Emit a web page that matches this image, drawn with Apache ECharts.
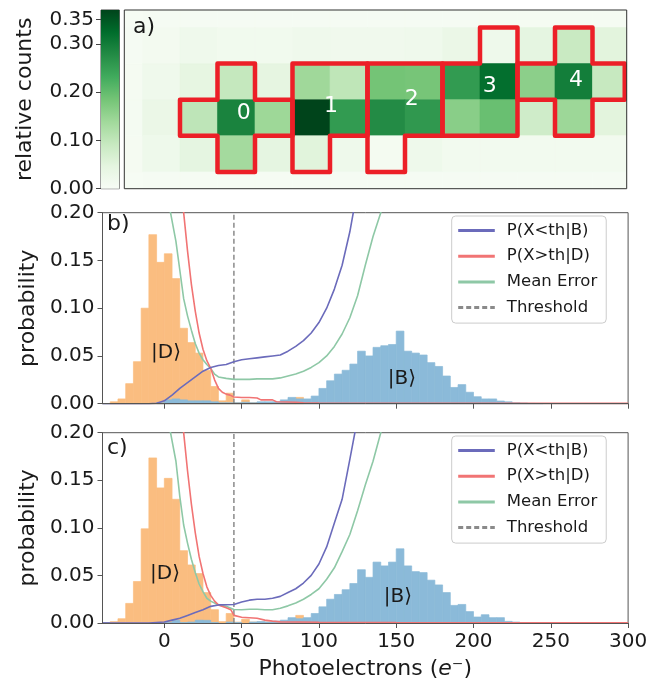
<!DOCTYPE html>
<html>
<head>
<meta charset="utf-8">
<script src="https://cdn.jsdelivr.net/npm/echarts@6/dist/echarts.min.js"></script>
<style>
  html, body { margin: 0; padding: 0; background: #ffffff; }
  #chart { width: 663px; height: 681px; }
</style>
</head>
<body>
<div id="chart"></div>
<script>
// ---------- panel a: camera region, relative counts per pixel (rows top→bottom, 14 columns) ----------
const HEAT_ROW_0 = [0.003, 0.005, 0.005, 0.005, 0.005, 0.005, 0.005, 0.005, 0.005, 0.005, 0.006, 0.006, 0.006, 0.006];
const HEAT_ROW_1 = [0.004, 0.010, 0.020, 0.015, 0.015, 0.020, 0.018, 0.018, 0.020, 0.030, 0.022, 0.045, 0.090, 0.050];
const HEAT_ROW_2 = [0.006, 0.020, 0.042, 0.095, 0.043, 0.140, 0.102, 0.185, 0.182, 0.255, 0.320, 0.160, 0.298, 0.092];
const HEAT_ROW_3 = [0.007, 0.030, 0.103, 0.290, 0.142, 0.370, 0.255, 0.278, 0.258, 0.163, 0.195, 0.080, 0.143, 0.050];
const HEAT_ROW_4 = [0.006, 0.022, 0.045, 0.135, 0.045, 0.052, 0.022, 0.008, 0.022, 0.013, 0.013, 0.013, 0.014, 0.014];
const HEAT_ROW_5 = [0.003, 0.005, 0.005, 0.005, 0.005, 0.005, 0.005, 0.005, 0.005, 0.005, 0.005, 0.005, 0.005, 0.005];
const HEAT_ROWS = [HEAT_ROW_0, HEAT_ROW_1, HEAT_ROW_2, HEAT_ROW_3, HEAT_ROW_4, HEAT_ROW_5];
const HEAT_MAX = 0.37;
const COLORBAR_TICKS = [0.0, 0.10, 0.20, 0.30, 0.35];

// Region of interest for each ion: outline corners in pixel-grid units, and label anchor
const ION_NAMES = ['0', '1', '2', '3', '4'];
const ION_LABEL_POS = [[3.70, 3.38], [6.03, 3.19], [8.18, 2.99], [10.26, 2.64], [12.56, 2.47]];
const ION_OUTLINES = [
  [[3, 2], [4, 2], [4, 3], [5, 3], [5, 4], [4, 4], [4, 5], [3, 5], [3, 4], [2, 4], [2, 3], [3, 3]],
  [[5, 2], [7, 2], [7, 4], [6, 4], [6, 5], [5, 5]],
  [[7, 2], [9, 2], [9, 4], [8, 4], [8, 5], [7, 5]],
  [[10, 1], [11, 1], [11, 4], [9, 4], [9, 2], [10, 2]],
  [[12, 1], [13, 1], [13, 2], [13.86, 2], [13.86, 3], [13, 3], [13, 4], [12, 4], [12, 3], [11, 3], [11, 2], [12, 2]]
];

// ---------- panels b and c: photoelectron histograms (5 e- bins starting at -40) ----------
const HIST_START = -40;
const BIN_WIDTH = 5;
const X_TICKS = [0, 50, 100, 150, 200, 250, 300];
const THRESHOLD = 45;

const B_DARK = [0, 0.002, 0.005, 0.021, 0.044, 0.100, 0.177, 0.148, 0.157, 0.131, 0.079, 0.064, 0.053, 0.035,
  0.018, 0.003, 0.011, 0.001, 0.004, 0.001, 0.001, 0.001, 0, 0.001, 0.002, 0.0066];
const B_BRIGHT = [0, 0, 0, 0, 0, 0, 0, 0.001, 0.004, 0.005, 0.004, 0.003, 0.003, 0.003, 0.002, 0.001, 0.001,
  0.001, 0.0015, 0.001, 0.002, 0.002, 0.002, 0.004, 0.0066, 0.005, 0.005, 0.008, 0.016, 0.024, 0.031, 0.035,
  0.0415, 0.055, 0.050, 0.059, 0.0607, 0.062, 0.076, 0.055, 0.053, 0.051, 0.043, 0.039, 0.029, 0.017, 0.020,
  0.012, 0.0073, 0.005, 0.005, 0.0028, 0.002, 0.001, 0.0007, 0.0003, 0.0002];

const C_DARK = [0, 0.0014, 0.0045, 0.0206, 0.0436, 0.099, 0.1735, 0.142, 0.152, 0.130, 0.076, 0.061, 0.052, 0.032,
  0.014, 0.0014, 0.010, 0.001, 0.004, 0.001, 0.001, 0.001, 0, 0.001, 0.002, 0.008];
const C_BRIGHT = [0, 0, 0, 0, 0, 0, 0, 0, 0.0007, 0.003, 0.0005, 0.001, 0.003, 0.0028, 0.0005, 0, 0.001, 0.0005,
  0, 0.001, 0.0015, 0.001, 0.002, 0.003, 0.0056, 0.0045, 0.0056, 0.010, 0.017, 0.025, 0.030, 0.035, 0.0415,
  0.056, 0.048, 0.064, 0.060, 0.064, 0.078, 0.060, 0.054, 0.053, 0.045, 0.040, 0.032, 0.0185, 0.0195, 0.012,
  0.0063, 0.0087, 0.0056, 0.0056, 0.0017, 0.001, 0.0005, 0.0003];

// error curves versus threshold: [threshold, probability]
const B_MISS_BRIGHT = [[-40, 0], [-10, 0], [-5, 0.0005], [0, 0.003], [5, 0.009], [10, 0.016], [15, 0.022],
  [20, 0.028], [25, 0.034], [30, 0.038], [35, 0.040], [40, 0.041], [45, 0.044], [50, 0.046], [55, 0.047],
  [60, 0.048], [65, 0.049], [70, 0.050], [75, 0.051], [80, 0.055], [85, 0.060], [90, 0.066], [95, 0.074],
  [100, 0.085], [105, 0.100], [110, 0.120], [115, 0.145], [120, 0.180], [125, 0.225], [130, 0.290]];
const B_MISS_DARK = [[0, 0.45], [5, 0.36], [10, 0.26], [12.5, 0.20], [15, 0.16], [17.5, 0.125], [20, 0.097],
  [22.5, 0.074], [25, 0.057], [27.5, 0.045], [30, 0.037], [32.5, 0.025], [35, 0.016], [37.5, 0.012],
  [40, 0.010], [42.5, 0.009], [45, 0.007], [50, 0.0065], [55, 0.0065], [60, 0.006], [62.5, 0.004], [70, 0.004],
  [72.5, 0.002], [85, 0.0015], [90, 0.001], [100, 0.0008], [150, 0.0005], [300, 0.0003]];
const B_MEAN_ERR = [[0, 0.25], [2.5, 0.22], [4, 0.20], [7.5, 0.17], [10, 0.14], [12.5, 0.11], [15, 0.092],
  [17.5, 0.077], [20, 0.063], [22.5, 0.053], [25, 0.046], [27.5, 0.041], [30, 0.037], [32.5, 0.031],
  [35, 0.028], [40, 0.0265], [45, 0.0255], [50, 0.0255], [55, 0.0255], [60, 0.026], [65, 0.026], [70, 0.026],
  [75, 0.027], [80, 0.029], [85, 0.031], [90, 0.034], [95, 0.038], [100, 0.043], [105, 0.050], [110, 0.060],
  [115, 0.073], [120, 0.090], [125, 0.113], [130, 0.145], [135, 0.175], [140, 0.20], [145, 0.24]];

const C_MISS_BRIGHT = [[-40, 0], [-10, 0], [-5, 0.0005], [0, 0.001], [5, 0.003], [10, 0.005], [15, 0.008],
  [20, 0.011], [25, 0.014], [30, 0.0175], [35, 0.019], [40, 0.0192], [45, 0.0195], [50, 0.022], [55, 0.024],
  [60, 0.025], [65, 0.025], [70, 0.026], [75, 0.028], [80, 0.032], [85, 0.036], [90, 0.042], [95, 0.050],
  [100, 0.062], [105, 0.080], [110, 0.105], [115, 0.130], [120, 0.172], [125, 0.215], [130, 0.270]];
const C_MISS_DARK = [[0, 0.45], [5, 0.36], [10, 0.26], [12.5, 0.20], [15, 0.16], [17.5, 0.125], [20, 0.095],
  [22.5, 0.070], [25, 0.052], [27.5, 0.038], [30, 0.029], [32.5, 0.023], [35, 0.019], [40, 0.016], [43, 0.014],
  [45, 0.008], [50, 0.006], [55, 0.0055], [60, 0.005], [65, 0.003], [70, 0.002], [75, 0.0012], [100, 0.0008],
  [150, 0.0005], [300, 0.0003]];
const C_MEAN_ERR = [[0, 0.24], [2.5, 0.215], [4, 0.20], [7.5, 0.17], [10, 0.133], [12.5, 0.103], [15, 0.084],
  [17.5, 0.067], [20, 0.053], [22.5, 0.041], [25, 0.033], [27.5, 0.026], [30, 0.023], [35, 0.019], [40, 0.0175],
  [45, 0.0142], [50, 0.014], [55, 0.0145], [60, 0.0145], [65, 0.014], [70, 0.014], [75, 0.0155], [80, 0.018],
  [85, 0.021], [90, 0.025], [95, 0.030], [100, 0.036], [105, 0.046], [110, 0.058], [115, 0.075], [120, 0.093],
  [125, 0.118], [130, 0.145], [135, 0.170], [140, 0.20], [145, 0.24]];

const LEGEND_NAMES = ['P(X<th|B)', 'P(X>th|D)', 'Mean Error', 'Threshold'];

// ---------- styling ----------
const FONT = 'DejaVu Sans';
const TEXT = '#1a1a1a';
const AXIS = '#555555';
const TICK_SIZE = 20;
const NAME_SIZE = 22;
const GREENS = ['#f7fcf5', '#e5f5e0', '#c7e9c0', '#a1d99b', '#74c476', '#41ab5d', '#238b45', '#006d2c', '#00441b'];
const COL_DARK = '#fabd80';
const COL_BRIGHT = '#8bbad9';
const COL_MISS_B = '#6b6bbb';
const COL_MISS_D = '#f17474';
const COL_MEAN = '#8ec8a6';
const COL_THR = '#8a8a8a';
const COL_ROI = '#ec1f27';

const HEAT_BOX = { left: 124.3, top: 10, width: 502.4, height: 178.7 };
const PANEL_LEFT = 102.5, PANEL_WIDTH = 525.6, PANEL_HEIGHT = 191;
const PANEL_B_TOP = 212.7, PANEL_C_TOP = 432.7;

const heatData = [];
HEAT_ROWS.forEach((row, r) => row.forEach((v, c) => heatData.push([c, r, v])));

function clipToGrid(rect, params) {
  const cs = params.coordSys;
  return echarts.graphic.clipRectByRect(rect, { x: cs.x, y: cs.y, width: cs.width, height: cs.height });
}

function renderCell(params, api) {
  const c = api.value(0), r = api.value(1);
  const p0 = api.coord([c, r]);
  const p1 = api.coord([c + 1, r + 1]);
  const rect = clipToGrid({
    x: Math.min(p0[0], p1[0]), y: Math.min(p0[1], p1[1]),
    width: Math.abs(p1[0] - p0[0]), height: Math.abs(p1[1] - p0[1])
  }, params);
  if (!rect) return null;
  const col = api.visual('color');
  return { type: 'rect', shape: rect, style: { fill: col, stroke: col, lineWidth: 0.6 } };
}

function renderIon(params, api) {
  const i = params.dataIndex;
  const pts = ION_OUTLINES[i].map(p => api.coord(p));
  const lp = api.coord([api.value(0), api.value(1)]);
  return {
    type: 'group',
    children: [
      { type: 'polygon', z2: 10, shape: { points: pts },
        style: { fill: 'none', stroke: COL_ROI, lineWidth: 4.5, lineJoin: 'round' } },
      { type: 'text', z2: 11, x: lp[0], y: lp[1],
        style: { text: ION_NAMES[i], fill: '#ffffff', fontSize: 22, fontFamily: FONT,
                 align: 'center', verticalAlign: 'middle' } }
    ]
  };
}

function renderColorbar(params, api) {
  const a = api.coord([0, api.value(1)]);
  const b = api.coord([1, api.value(0)]);
  const stops = GREENS.map((c, k) => ({ offset: k / (GREENS.length - 1), color: c }));
  return {
    type: 'rect',
    shape: { x: a[0], y: a[1], width: b[0] - a[0], height: b[1] - a[1] },
    style: { fill: new echarts.graphic.LinearGradient(0, 1, 0, 0, stops) }
  };
}

function renderBin(params, api) {
  const x0 = api.value(0), v = api.value(1);
  if (!(v > 0)) return null;
  const a = api.coord([x0, v]);
  const b = api.coord([x0 + BIN_WIDTH, 0]);
  const col = api.visual('color');
  return { type: 'rect', shape: { x: a[0], y: a[1], width: b[0] - a[0], height: b[1] - a[1] },
           style: { fill: col, stroke: col, lineWidth: 0.7 } };
}

function binned(values) {
  return values.map((v, i) => [HIST_START + i * BIN_WIDTH, v]);
}

function histSeries(name, values, color, idx) {
  return { type: 'custom', name: name, xAxisIndex: idx, yAxisIndex: idx, renderItem: renderBin,
           itemStyle: { color: color }, data: binned(values), z: 2, silent: true };
}

function curveSeries(name, data, color, idx) {
  return { type: 'line', name: name, xAxisIndex: idx, yAxisIndex: idx, data: data, symbol: 'none',
           clip: true, lineStyle: { color: color, width: 1.6 }, itemStyle: { color: color }, z: 4 };
}

function thresholdSeries(idx) {
  return { type: 'line', name: 'Threshold', xAxisIndex: idx, yAxisIndex: idx,
           data: [[THRESHOLD, 0], [THRESHOLD, 0.2]], symbol: 'none',
           lineStyle: { color: COL_THR, width: 1.5, type: [5, 3] }, itemStyle: { color: COL_THR }, z: 3 };
}

function probYAxis(idx) {
  return {
    gridIndex: idx, type: 'value', min: 0, max: 0.2, interval: 0.05, z: 6,
    name: 'probability', nameLocation: 'middle', nameGap: 61,
    nameTextStyle: { fontSize: NAME_SIZE, color: TEXT, fontFamily: FONT },
    axisLine: { show: true, onZero: false, lineStyle: { color: AXIS, width: 1 } },
    axisTick: { show: true, inside: false, length: 5, lineStyle: { color: AXIS } },
    axisLabel: { fontSize: TICK_SIZE, color: TEXT, fontFamily: FONT, margin: 8, formatter: v => v.toFixed(2) },
    splitLine: { show: false }
  };
}

function photoXAxis(idx, withLabels) {
  const ax = {
    gridIndex: idx, type: 'value', min: -40, max: 300, z: 6,
    axisLine: { show: true, onZero: false, lineStyle: { color: AXIS, width: 1 } },
    axisTick: { show: true, inside: false, length: 5, customValues: X_TICKS, lineStyle: { color: AXIS } },
    axisLabel: { show: withLabels, customValues: X_TICKS, fontSize: TICK_SIZE, color: TEXT, fontFamily: FONT,
                 margin: 9 },
    splitLine: { show: false }
  };
  if (withLabels) {
    ax.name = 'Photoelectrons ({i|e}⁻)';
    ax.nameLocation = 'middle';
    ax.nameGap = 35;
    ax.nameTextStyle = { fontSize: NAME_SIZE, color: TEXT, fontFamily: FONT,
      rich: { i: { fontSize: NAME_SIZE, fontStyle: 'italic', color: TEXT, fontFamily: FONT } } };
  }
  return ax;
}

function legendAt(top) {
  return {
    data: LEGEND_NAMES, orient: 'vertical', left: 451.7, top: top,
    padding: [6, 9, 7, 5], itemGap: 8.7, itemWidth: 36.6, itemHeight: 16,
    backgroundColor: 'rgba(255,255,255,0.85)', borderColor: '#cccccc', borderWidth: 1, borderRadius: 4,
    lineStyle: { width: 3 },
    itemStyle: { opacity: 0 },
    textStyle: { fontSize: 16.5, color: TEXT, fontFamily: FONT, padding: [0, 0, 0, 7] },
    selectedMode: false
  };
}

const chart = echarts.init(document.getElementById('chart'), null, { renderer: 'canvas' });

const option = {
  animation: false,
  backgroundColor: '#ffffff',
  textStyle: { fontFamily: FONT },
  grid: [
    { left: HEAT_BOX.left, top: HEAT_BOX.top, width: HEAT_BOX.width, height: HEAT_BOX.height, show: false },
    { left: 101, top: 10, width: 18.3, height: 178.7, show: true, borderColor: '#444', borderWidth: 1 },
    { left: PANEL_LEFT, top: PANEL_B_TOP, width: PANEL_WIDTH, height: PANEL_HEIGHT,
      show: true, borderColor: AXIS, borderWidth: 1 },
    { left: PANEL_LEFT, top: PANEL_C_TOP, width: PANEL_WIDTH, height: PANEL_HEIGHT,
      show: true, borderColor: AXIS, borderWidth: 1 }
  ],
  xAxis: [
    { gridIndex: 0, type: 'value', min: 0.515, max: 13.912, show: false },
    { gridIndex: 1, type: 'value', min: 0, max: 1, show: false },
    photoXAxis(2, false),
    photoXAxis(3, true)
  ],
  yAxis: [
    { gridIndex: 0, type: 'value', min: 0.515, max: 5.465, inverse: true, show: false },
    {
      gridIndex: 1, type: 'value', min: 0, max: HEAT_MAX, position: 'left',
      name: 'relative counts', nameLocation: 'middle', nameGap: 65,
      nameTextStyle: { fontSize: NAME_SIZE, color: TEXT, fontFamily: FONT },
      axisLine: { show: false },
      axisTick: { show: true, length: 5, customValues: COLORBAR_TICKS, lineStyle: { color: '#444' } },
      axisLabel: { customValues: COLORBAR_TICKS, fontSize: TICK_SIZE, color: TEXT, fontFamily: FONT, margin: 7,
                   formatter: v => v.toFixed(2) },
      splitLine: { show: false }
    },
    probYAxis(2),
    probYAxis(3)
  ],
  visualMap: {
    type: 'continuous', show: false, seriesIndex: 0, dimension: 2, min: 0, max: HEAT_MAX,
    inRange: { color: GREENS }
  },
  legend: [legendAt(216), legendAt(436)],
  series: [
    { type: 'custom', name: 'counts', xAxisIndex: 0, yAxisIndex: 0, renderItem: renderCell,
      data: heatData, silent: true, z: 1 },
    { type: 'custom', name: 'ions', xAxisIndex: 0, yAxisIndex: 0, renderItem: renderIon,
      data: ION_LABEL_POS, silent: true, z: 5 },
    { type: 'custom', name: 'colorbar', xAxisIndex: 1, yAxisIndex: 1, renderItem: renderColorbar,
      data: [[0, HEAT_MAX]], silent: true },

    histSeries('|D⟩ b', B_DARK, COL_DARK, 2),
    histSeries('|B⟩ b', B_BRIGHT, COL_BRIGHT, 2),
    thresholdSeries(2),
    curveSeries('Mean Error', B_MEAN_ERR, COL_MEAN, 2),
    curveSeries('P(X>th|D)', B_MISS_DARK, COL_MISS_D, 2),
    curveSeries('P(X<th|B)', B_MISS_BRIGHT, COL_MISS_B, 2),

    histSeries('|D⟩ c', C_DARK, COL_DARK, 3),
    histSeries('|B⟩ c', C_BRIGHT, COL_BRIGHT, 3),
    thresholdSeries(3),
    curveSeries('Mean Error', C_MEAN_ERR, COL_MEAN, 3),
    curveSeries('P(X>th|D)', C_MISS_DARK, COL_MISS_D, 3),
    curveSeries('P(X<th|B)', C_MISS_BRIGHT, COL_MISS_B, 3)
  ],
  graphic: [
    { type: 'rect', z: 100, silent: true,
      shape: { x: HEAT_BOX.left, y: HEAT_BOX.top, width: HEAT_BOX.width, height: HEAT_BOX.height },
      style: { fill: 'none', stroke: '#333', lineWidth: 1 } },
    { type: 'text', z: 100, left: 133, top: 16, style: { text: 'a)', fontSize: 22, fill: TEXT, fontFamily: FONT } },
    { type: 'text', z: 100, left: 107, top: 213, style: { text: 'b)', fontSize: 22, fill: TEXT, fontFamily: FONT } },
    { type: 'text', z: 100, left: 107, top: 437, style: { text: 'c)', fontSize: 22, fill: TEXT, fontFamily: FONT } },
    { type: 'text', z: 100, x: 166, y: 353, style: { text: '|D⟩', fontSize: 20, fill: TEXT, fontFamily: FONT,
      align: 'center', verticalAlign: 'middle' } },
    { type: 'text', z: 100, x: 402, y: 379, style: { text: '|B⟩', fontSize: 20, fill: TEXT, fontFamily: FONT,
      align: 'center', verticalAlign: 'middle' } },
    { type: 'text', z: 100, x: 165, y: 574, style: { text: '|D⟩', fontSize: 20, fill: TEXT, fontFamily: FONT,
      align: 'center', verticalAlign: 'middle' } },
    { type: 'text', z: 100, x: 398, y: 597, style: { text: '|B⟩', fontSize: 20, fill: TEXT, fontFamily: FONT,
      align: 'center', verticalAlign: 'middle' } }
  ]
};

chart.setOption(option);
</script>
</body>
</html>
